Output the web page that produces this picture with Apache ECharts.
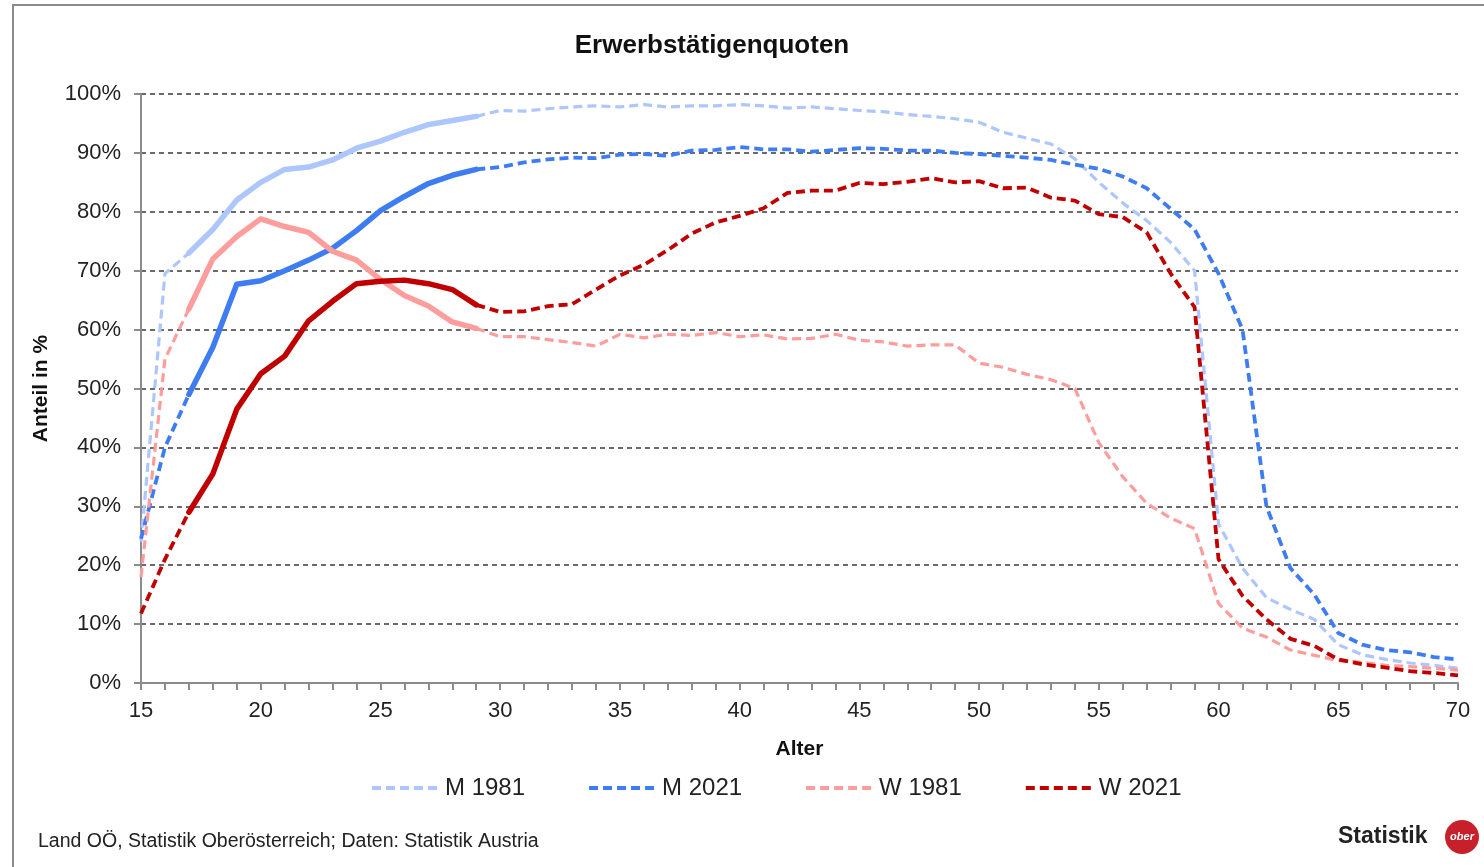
<!DOCTYPE html>
<html>
<head>
<meta charset="utf-8">
<title>Erwerbstätigenquoten</title>
<script src="https://cdn.jsdelivr.net/npm/echarts@6/dist/echarts.min.js"></script>
<style>
  html, body { margin: 0; padding: 0; background: #fff; }
  #chart-container { width: 1484px; height: 867px; }
</style>
</head>
<body>
<div id="chart-container"></div>
<script>
// Alter 15..70
var ages = [15, 16, 17, 18, 19, 20, 21, 22, 23, 24, 25, 26, 27, 28, 29, 30, 31, 32, 33, 34,
  35, 36, 37, 38, 39, 40, 41, 42, 43, 44, 45, 46, 47, 48, 49, 50, 51, 52, 53, 54,
  55, 56, 57, 58, 59, 60, 61, 62, 63, 64, 65, 66, 67, 68, 69, 70];

var m1981 = [24, 69.5, 73, 77, 82, 85, 87.2, 87.6, 88.8, 90.8, 92, 93.5, 94.8, 95.5, 96.2, 97.2, 97.1, 97.5, 97.8, 98,
  97.8, 98.2, 97.8, 98, 98, 98.2, 98, 97.6, 97.8, 97.5, 97.2, 97, 96.5, 96.2, 95.8, 95.2, 93.5, 92.5, 91.5, 89,
  85, 81.5, 78.5, 74.8, 70, 27, 19.5, 14.5, 12.5, 10.8, 6.5, 4.8, 4, 3.4, 3, 2.5];

var m2021 = [24.5, 40, 49, 57, 67.7, 68.3, 70, 71.8, 73.8, 76.8, 80.2, 82.6, 84.8, 86.2, 87.2, 87.6, 88.4, 88.9, 89.2, 89.1,
  89.7, 89.8, 89.5, 90.4, 90.5, 91, 90.6, 90.6, 90.2, 90.5, 90.8, 90.7, 90.4, 90.4, 90, 89.8, 89.5, 89.2, 88.8, 88,
  87.3, 86, 84, 80.5, 77, 69.5, 60, 30, 19.5, 15, 8.5, 6.5, 5.6, 5.2, 4.4, 4];

var w1981 = [18, 55, 63.5, 72, 75.8, 78.8, 77.5, 76.5, 73.3, 71.8, 68.5, 65.8, 64, 61.3, 60.2, 58.8, 58.8, 58.3, 57.8, 57.2,
  59.2, 58.6, 59.2, 59, 59.5, 58.8, 59.1, 58.4, 58.5, 59.2, 58.2, 57.9, 57.2, 57.4, 57.4, 54.3, 53.6, 52.4, 51.5, 50,
  40.8, 35, 30.5, 28, 26.2, 13.5, 9.3, 7.8, 5.6, 4.7, 3.8, 3.5, 3, 2.8, 2.5, 2.2];

var w2021 = [11.8, 21, 29, 35.5, 46.5, 52.5, 55.5, 61.5, 64.8, 67.8, 68.2, 68.4, 67.8, 66.8, 64.2, 63, 63.1, 64, 64.3, 66.8,
  69.2, 71, 73.5, 76.3, 78.2, 79.3, 80.6, 83.2, 83.6, 83.6, 84.9, 84.7, 85.1, 85.7, 85, 85.2, 84, 84.1, 82.4, 81.9,
  79.6, 79.1, 76.5, 69.5, 63.8, 21, 14.8, 10.8, 7.5, 6.3, 4, 3.2, 2.6, 2, 1.7, 1.3];

var seriesNames = ['M 1981', 'M 2021', 'W 1981', 'W 2021'];
var seriesColors = ['#adc6fd', '#3e7cf2', '#ff9c9c', '#c00000'];
var yTicks = [0, 10, 20, 30, 40, 50, 60, 70, 80, 90, 100];

// durchgezogen zwischen 17 und 29, sonst gestrichelt
var solidFrom = 17, solidTo = 29;

var dom = document.getElementById('chart-container');
var myChart = echarts.init(dom, null, { renderer: 'canvas' });

var font = "'Liberation Sans', Arial, sans-serif";
var allData = [m1981, m2021, w1981, w2021];

var series = [];
allData.forEach(function (vals, k) {
  var thin = (k === 0 || k === 2) ? 3.2 : 3.8;
  series.push({
    name: seriesNames[k],
    type: 'line',
    symbol: 'none',
    connectNulls: false,
    z: 2 + k,
    lineStyle: { color: seriesColors[k], width: thin, type: [9, 5], cap: 'butt' },
    itemStyle: { color: seriesColors[k] },
    data: vals.map(function (v, i) {
      return (ages[i] <= solidFrom || ages[i] >= solidTo) ? v : null;
    })
  });
  series.push({
    name: seriesNames[k] + ' ',
    type: 'line',
    symbol: 'none',
    z: 2 + k,
    lineStyle: { color: seriesColors[k], width: 5.5, cap: 'round', join: 'round' },
    itemStyle: { color: seriesColors[k] },
    data: vals.map(function (v, i) {
      return (ages[i] >= solidFrom && ages[i] <= solidTo) ? v : null;
    })
  });
});

var option = {
  backgroundColor: '#fff',
  animation: false,
  title: {
    text: 'Erwerbstätigenquoten',
    left: 707,
    textAlign: 'center',
    top: 28,
    textStyle: { fontFamily: font, fontSize: 26, fontWeight: 'bold', color: '#111' }
  },
  grid: { left: 141, right: 26, top: 94, bottom: 184 },
  legend: {
    data: seriesNames,
    top: 771,
    left: 365,
    itemWidth: 68,
    itemHeight: 14,
    itemGap: 62,
    itemStyle: { opacity: 0 },
    lineStyle: { width: 4 },
    textStyle: { fontFamily: font, fontSize: 24, color: '#222' }
  },
  xAxis: {
    type: 'category',
    data: ages,
    boundaryGap: false,
    name: 'Alter',
    nameLocation: 'middle',
    nameGap: 56,
    nameTextStyle: { fontFamily: font, fontSize: 21, fontWeight: 'bold', color: '#111' },
    axisLine: { lineStyle: { color: '#8c8c8c', width: 2 } },
    axisTick: { interval: 0, length: 7, lineStyle: { color: '#8c8c8c', width: 2 } },
    axisLabel: {
      interval: 4,
      margin: 17,
      fontFamily: font,
      fontSize: 22,
      color: '#222'
    },
    splitLine: { show: false }
  },
  yAxis: {
    type: 'value',
    min: yTicks[0],
    max: yTicks[yTicks.length - 1],
    interval: 10,
    name: 'Anteil in %',
    nameLocation: 'middle',
    nameGap: 89,
    nameTextStyle: { fontFamily: font, fontSize: 21, fontWeight: 'bold', color: '#111' },
    axisLine: { show: true, lineStyle: { color: '#8c8c8c', width: 2 } },
    axisTick: { show: true, length: 7, lineStyle: { color: '#8c8c8c', width: 2 } },
    axisLabel: {
      margin: 20,
      fontFamily: font,
      fontSize: 22,
      color: '#222',
      formatter: '{value}%'
    },
    splitLine: { lineStyle: { color: '#3a3a3a', width: 1.6, type: [5, 4] } }
  },
  series: series,
  graphic: [
    {
      type: 'rect',
      silent: true,
      shape: { x: 13, y: 5, width: 1500, height: 900 },
      style: { fill: 'none', stroke: '#8a8a8a', lineWidth: 2 }
    },
    {
      type: 'text',
      left: 38,
      top: 832,
      style: {
        text: 'Land OÖ, Statistik Oberösterreich; Daten: Statistik Austria',
        font: '19.5px ' + font,
        fill: '#222'
      }
    },
    {
      type: 'text',
      left: 1338,
      top: 825,
      style: { text: 'Statistik', font: 'bold 23px ' + font, fill: '#222' }
    },
    {
      type: 'circle',
      shape: { cx: 1462, cy: 837, r: 17 },
      style: { fill: '#c8202a' }
    },
    {
      type: 'text',
      x: 1462,
      y: 837,
      style: {
        text: 'ober',
        font: 'italic bold 11px ' + font,
        fill: '#fff',
        align: 'center',
        verticalAlign: 'middle'
      }
    }
  ]
};

myChart.setOption(option);
window.addEventListener('resize', myChart.resize);
</script>
</body>
</html>
